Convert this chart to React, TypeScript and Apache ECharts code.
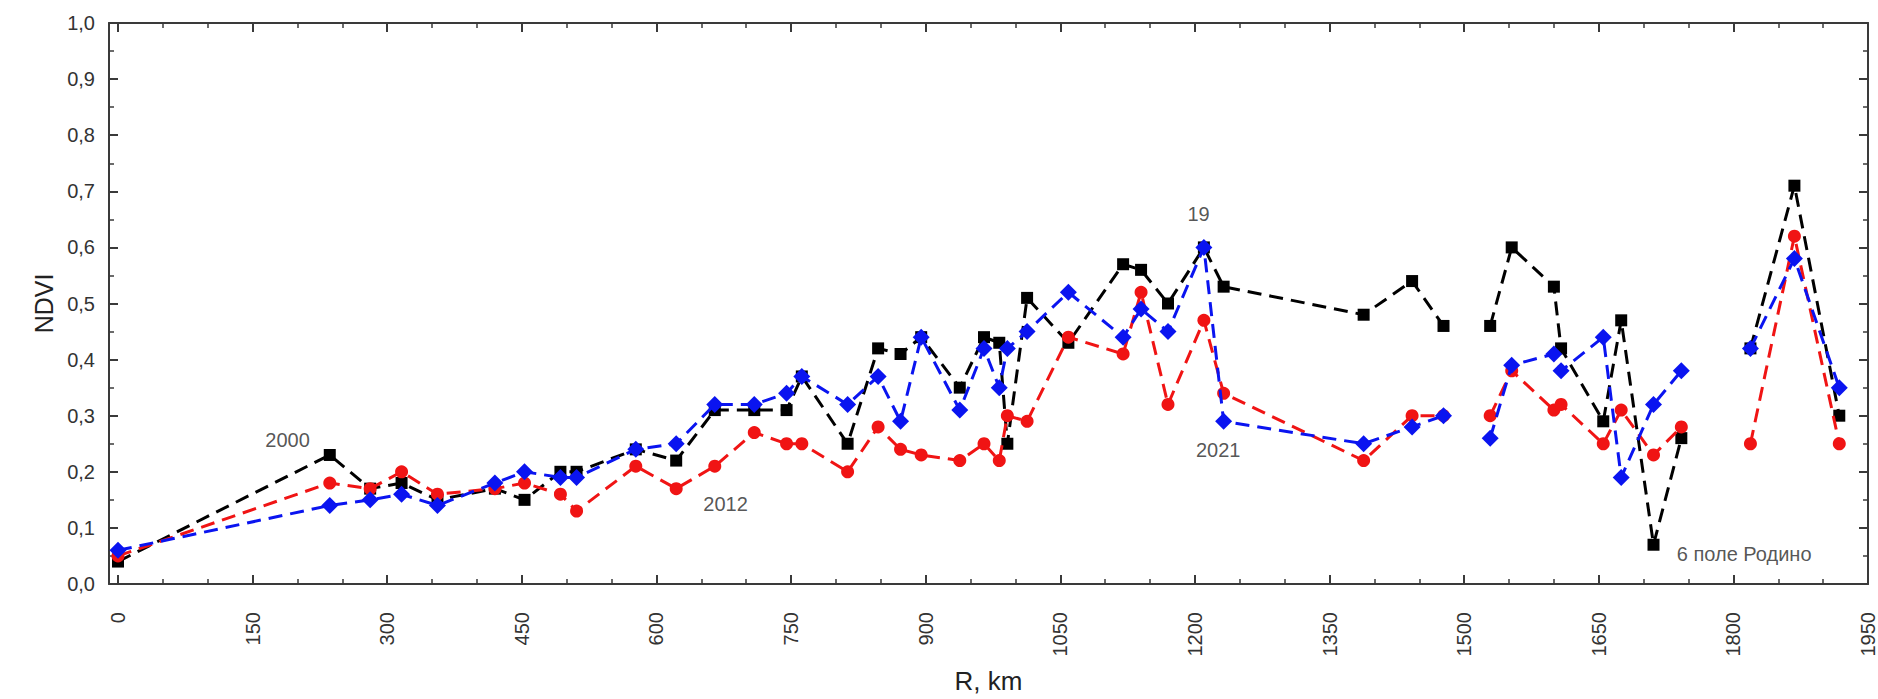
import React, { useEffect, useRef } from "react";
import * as echarts from "echarts";

// Distance along the route, km (null = break in the profile)
const xKm: (number | null)[] = [
  0, 236, 281, 316, 356, 420, 453, 493, 511, 577, 622, 665, 709, 745, 762, 813,
  847, 872, 895, 938, 965, 982, 991, 1013, 1059, 1120, 1140, 1170, 1210, 1232,
  1388, 1442, 1477, null, 1529, 1553, 1600, 1608, 1655, 1675, 1711, 1742, null,
  1819, 1868, 1918,
];

const ndvi2000: (number | null)[] = [
  0.04, 0.23, 0.17, 0.18, 0.15, 0.17, 0.15, 0.2, 0.2, 0.24, 0.22, 0.31, 0.31, 0.31, 0.37, 0.25,
  0.42, 0.41, 0.44, 0.35, 0.44, 0.43, 0.25, 0.51, 0.43, 0.57, 0.56, 0.5, 0.6, 0.53,
  0.48, 0.54, 0.46, null, 0.46, 0.6, 0.53, 0.42, 0.29, 0.47, 0.07, 0.26, null,
  0.42, 0.71, 0.3,
];

const ndvi2012: (number | null)[] = [
  0.05, 0.18, 0.17, 0.2, 0.16, 0.17, 0.18, 0.16, 0.13, 0.21, 0.17, 0.21, 0.27, 0.25, 0.25, 0.2,
  0.28, 0.24, 0.23, 0.22, 0.25, 0.22, 0.3, 0.29, 0.44, 0.41, 0.52, 0.32, 0.47, 0.34,
  0.22, 0.3, 0.3, null, 0.3, 0.38, 0.31, 0.32, 0.25, 0.31, 0.23, 0.28, null,
  0.25, 0.62, 0.25,
];

const ndvi2021: (number | null)[] = [
  0.06, 0.14, 0.15, 0.16, 0.14, 0.18, 0.2, 0.19, 0.19, 0.24, 0.25, 0.32, 0.32, 0.34, 0.37, 0.32,
  0.37, 0.29, 0.44, 0.31, 0.42, 0.35, 0.42, 0.45, 0.52, 0.44, 0.49, 0.45, 0.6, 0.29,
  0.25, 0.28, 0.3, null, 0.26, 0.39, 0.41, 0.38, 0.44, 0.19, 0.32, 0.38, null,
  0.42, 0.58, 0.35,
];

const xMajorTicks = [0, 150, 300, 450, 600, 750, 900, 1050, 1200, 1350, 1500, 1650, 1800, 1950];
const xMinorTicks = [
  50, 100, 200, 250, 350, 400, 500, 550, 650, 700, 800, 850, 950, 1000, 1100, 1150,
  1250, 1300, 1400, 1450, 1550, 1600, 1700, 1750, 1850, 1900,
];

const annotationTexts = ["2000", "2012", "19", "2021", "6 поле Родино"];
const annotationX = [189, 677, 1204, 1226, 1812];
const annotationY = [0.257, 0.142, 0.659, 0.239, 0.054];

const FONT = "'Liberation Sans', Arial, sans-serif";
const AXIS_COLOR = "#3a3a3a";

function toData(vals: (number | null)[]) {
  return xKm.map((x, i) =>
    x == null || vals[i] == null ? ["-", "-"] : [x, vals[i]]
  );
}

export default function App() {
  const ref = useRef<HTMLDivElement>(null);

  useEffect(() => {
    if (!ref.current) return;
    const chart = echarts.init(ref.current, null, { renderer: "svg" });

    const xCommon = { type: "value", min: -10, max: 1950, splitLine: { show: false } };
    const yCommon = {
      type: "value",
      min: 0,
      max: 1,
      interval: 0.1,
      splitLine: { show: false },
      minorSplitLine: { show: false },
      axisLine: { show: true, onZero: false, lineStyle: { color: AXIS_COLOR, width: 2 } },
      axisTick: { show: true, inside: true, length: 9, lineStyle: { color: AXIS_COLOR, width: 2 } },
      minorTick: { show: true, splitNumber: 2, length: 5, lineStyle: { color: AXIS_COLOR, width: 1.5 } },
    };

    const lineSeries = (name: string, vals: (number | null)[], color: string, symbol: string, size: number, z: number) => ({
      name,
      type: "line",
      xAxisIndex: 0,
      yAxisIndex: 0,
      data: toData(vals),
      symbol,
      symbolSize: size,
      connectNulls: false,
      z,
      lineStyle: { color, width: 3, type: [14, 8] },
      itemStyle: { color },
    });

    chart.setOption({
      animation: false,
      textStyle: { fontFamily: FONT },
      grid: { left: 109, right: 10, top: 23, bottom: 107 },
      xAxis: [
        {
          ...xCommon,
          position: "bottom",
          axisLine: { show: true, onZero: false, lineStyle: { color: AXIS_COLOR, width: 2 } },
          axisTick: { show: true, inside: true, length: 9, customValues: xMajorTicks, lineStyle: { color: AXIS_COLOR, width: 2 } },
          axisLabel: {
            show: true,
            customValues: xMajorTicks,
            rotate: 90,
            margin: 28,
            fontSize: 20,
            color: "#333",
            fontFamily: FONT,
            formatter: (v: number) => String(v),
          },
          name: "R, km",
          nameLocation: "middle",
          nameGap: 84,
          nameTextStyle: { fontSize: 26, color: "#222", fontFamily: FONT },
        },
        {
          ...xCommon,
          position: "bottom",
          axisLine: { show: false, onZero: false },
          axisTick: { show: true, inside: true, length: 5, customValues: xMinorTicks, lineStyle: { color: AXIS_COLOR, width: 1.5 } },
          axisLabel: { show: false },
        },
        {
          ...xCommon,
          position: "top",
          axisLine: { show: true, onZero: false, lineStyle: { color: AXIS_COLOR, width: 2 } },
          axisTick: { show: true, inside: true, length: 9, customValues: xMajorTicks, lineStyle: { color: AXIS_COLOR, width: 2 } },
          axisLabel: { show: false },
        },
        {
          ...xCommon,
          position: "top",
          axisLine: { show: false, onZero: false },
          axisTick: { show: true, inside: true, length: 5, customValues: xMinorTicks, lineStyle: { color: AXIS_COLOR, width: 1.5 } },
          axisLabel: { show: false },
        },
      ],
      yAxis: [
        {
          ...yCommon,
          position: "left",
          axisLabel: {
            show: true,
            fontSize: 20,
            color: "#333",
            margin: 14,
            fontFamily: FONT,
            formatter: (v: number) => v.toFixed(1).replace(".", ","),
          },
          name: "NDVI",
          nameLocation: "middle",
          nameGap: 52,
          nameRotate: 90,
          nameTextStyle: { fontSize: 25, color: "#222", fontFamily: FONT },
        },
        {
          ...yCommon,
          position: "right",
          axisLabel: { show: false },
        },
      ],
      series: [
        lineSeries("2000", ndvi2000, "#000000", "rect", 12, 2),
        lineSeries("2012", ndvi2012, "#f01414", "circle", 13, 3),
        lineSeries("2021", ndvi2021, "#0a14f0", "diamond", 17, 4),
        {
          type: "scatter",
          xAxisIndex: 0,
          yAxisIndex: 0,
          silent: true,
          symbolSize: 0,
          z: 10,
          data: annotationTexts.map((t, i) => ({ name: t, value: [annotationX[i], annotationY[i]] })),
          label: {
            show: true,
            position: "inside",
            formatter: "{b}",
            fontSize: 20,
            color: "#2a2a2a",
            fontFamily: FONT,
          },
        },
      ],
    });

    return () => chart.dispose();
  }, []);

  return (
    <div
      ref={ref}
      style={{ position: "absolute", left: 0, top: 0, width: 1878, height: 699, background: "#fff" }}
    />
  );
}
